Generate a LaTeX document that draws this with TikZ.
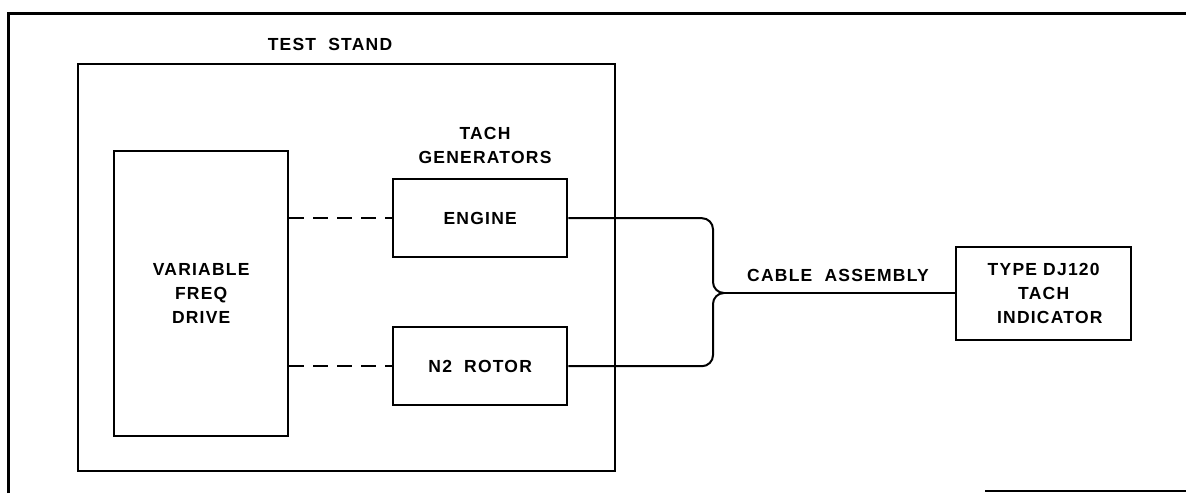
\documentclass[tikz,border=0pt]{standalone}
\usepackage{fontspec}
\setmainfont[LetterSpace=7]{Liberation Sans}
\begin{document}
\begin{tikzpicture}[x=1pt,y=-1pt,
  box/.style={draw,line width=2.4pt,inner sep=0pt,anchor=north west},
  lbl/.style={font=\fontsize{17.5}{24}\selectfont\bfseries,align=center,inner sep=0pt},
  wire/.style={line width=2pt},
  dashwire/.style={line width=2pt,dash pattern=on 15pt off 9pt}]
\useasboundingbox (0,0) rectangle (1186,493);
% outer frame
\draw[line width=3pt] (8,493) -- (8,13) -- (1186,13);
\draw[line width=2pt] (985,491) -- (1186,491);
% test stand
\node[box,minimum width=537pt,minimum height=407pt] (ts) at (77,63) {};
\node[lbl] (tsl) at (330,44) {TEST\ \ STAND};
% variable freq drive
\node[box,minimum width=174pt,minimum height=285pt] (vfd) at (113,150) {};
\node[lbl] at (vfd.center) {VARIABLE\\FREQ\\DRIVE};
% tach generators
\node[lbl] (tg) at (485,145) {TACH\\GENERATORS};
\node[box,minimum width=174pt,minimum height=78pt] (eng) at (392,178) {};
\node[lbl] at (eng.center) {ENGINE};
\node[box,minimum width=174pt,minimum height=78pt] (n2) at (392,326) {};
\node[lbl] at (n2.center) {N2\ \ ROTOR};
% indicator
\node[box,minimum width=175pt,minimum height=93pt] (ind) at (955,246) {};
\node[lbl] at (ind.center) {TYPE DJ120\\TACH\\\ \ INDICATOR};
% dashed couplings
\draw[dashwire] (vfd.east |- eng.west) -- (eng.west);
\draw[dashwire] (vfd.east |- n2.west) -- (n2.west);
% cable assembly
\coordinate (j) at (724,293);
\coordinate (bx) at (713,293);
\draw[wire,rounded corners=11pt] (eng.east) -- (bx |- eng.east) -- (bx) -- (j);
\draw[wire,rounded corners=11pt] (n2.east) -- (bx |- n2.east) -- (bx) -- (j);
\draw[wire] (j) -- (j -| ind.west);
\node[lbl] (ca) at (838,275) {CABLE\ \ ASSEMBLY};
\end{tikzpicture}
\end{document}
